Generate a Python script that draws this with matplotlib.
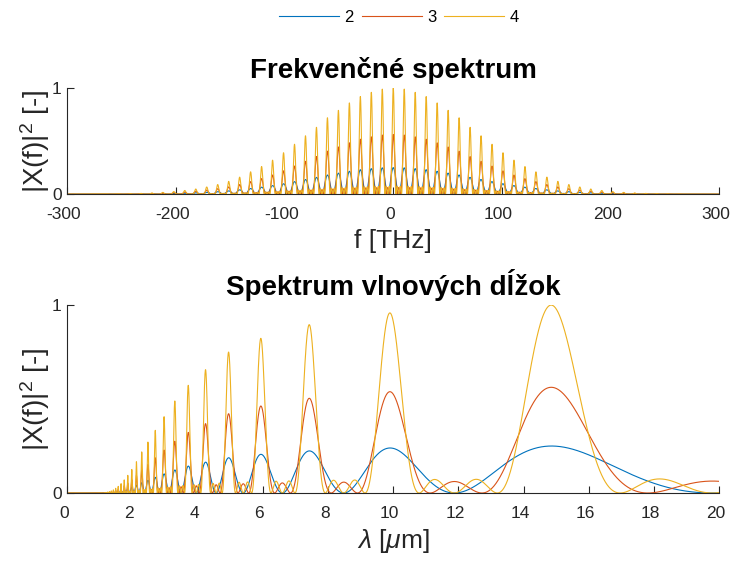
import numpy as np
import matplotlib
matplotlib.use("Agg")
import matplotlib.pyplot as plt
import matplotlib.transforms as mtransforms

plt.rcParams['font.family'] = ['Liberation Sans', 'DejaVu Sans']
plt.rcParams['mathtext.fontset'] = 'custom'
plt.rcParams['mathtext.rm'] = 'Liberation Sans'
plt.rcParams['mathtext.it'] = 'Liberation Sans:italic'

# ---- data ----
pulse_counts = [2, 3, 4]                 # legend entries
series_colors = ['#0072BD', '#D95319', '#EDB120']
comb_spacing_thz = 10.1                  # spacing of the comb teeth [THz]
# peak height of the comb teeth (N=4 curve) at f = m * spacing, m = 0..30
tooth_heights = [1.0, 0.99, 0.96, 0.92, 0.86, 0.79, 0.72, 0.63, 0.55, 0.47,
                 0.39, 0.32, 0.26, 0.21, 0.16, 0.12, 0.09, 0.067, 0.048, 0.034,
                 0.024, 0.016, 0.011, 0.007, 0.005, 0.003, 0.002, 0.001, 0.0007,
                 0.0004, 0.0002]
freq_ticks = [-300, -200, -100, 0, 100, 200, 300]
wl_ticks = [0, 2, 4, 6, 8, 10, 12, 14, 16, 18, 20]
c_um_thz = 299.792458

tooth_freqs = comb_spacing_thz * np.arange(len(tooth_heights))
log_h = np.log(np.array(tooth_heights))


def spectrum(f, n):
    env = np.exp(np.interp(np.abs(f), tooth_freqs, log_h, right=log_h[-1] - 5))
    x = np.pi * f / comb_spacing_thz
    den = np.sin(x)
    num = np.sin(n * x)
    small = np.abs(den) < 1e-12
    ratio2 = np.where(small, n ** 2, (num / np.where(small, 1, den)) ** 2)
    return env * ratio2 / max(pulse_counts) ** 2


fig = plt.figure(figsize=(7.32, 5.61), dpi=100)
ax1 = fig.add_axes([0.0919, 0.654, 0.8907, 0.189])
ax2 = fig.add_axes([0.0919, 0.1212, 0.8907, 0.335])

f = np.linspace(-300, 300, 60001)
lines = []
for n, col in zip(pulse_counts, series_colors):
    l, = ax1.plot(f, spectrum(f, n), color=col, lw=0.8, label=str(n))
    lines.append(l)

lam = np.linspace(0.02, 20, 200001)
fl = c_um_thz / lam
curves = [spectrum(fl, n) for n in pulse_counts]
norm = max(c.max() for c in curves)
for cvals, col in zip(curves, series_colors):
    ax2.plot(lam, cvals / norm, color=col, lw=0.8)

for ax in (ax1, ax2):
    for s in ('top', 'right'):
        ax.spines[s].set_visible(False)
    for s in ('left', 'bottom'):
        ax.spines[s].set_color('#262626')
        ax.spines[s].set_linewidth(0.8)
    ax.tick_params(direction='in', length=5, width=0.8, colors='#262626',
                   labelsize=12.5, labelcolor='#262626')
    ax.tick_params(axis='x', pad=9)
    ax.tick_params(axis='y', pad=4)
    ax.set_ylim(0, 1)
    ax.set_yticks([0, 1])
    ax.set_ylabel(r'|X(f)|$^2$ [-]', fontsize=20, color='#262626', labelpad=0)

ax1.set_xlim(-300, 300)
ax1.set_xticks(freq_ticks)
ax1.set_xticklabels([str(t) for t in freq_ticks])
ax1.set_xlabel('f [THz]', fontsize=19, color='#262626', labelpad=5)
ax1.set_title('Frekvenčné spektrum', fontsize=20, fontweight='bold', pad=7)

ax2.set_xlim(0, 20)
ax2.set_xticks(wl_ticks)
ax2.set_xlabel(r'$\lambda$ [$\mu$m]', fontsize=19, color='#262626', labelpad=5)
ax2.set_title('Spektrum vlnových dĺžok', fontsize=20, fontweight='bold', pad=7)

# reference tick labels sit slightly left of their ticks
shift = mtransforms.ScaledTranslation(-2.5 / 72, 0, fig.dpi_scale_trans)
for ax in (ax1, ax2):
    for lab in ax.get_xticklabels():
        lab.set_transform(lab.get_transform() + shift)

fig.legend(handles=lines, labels=[str(n) for n in pulse_counts], loc='center',
           bbox_to_anchor=(0.545, 0.969), ncol=3, frameon=False, fontsize=12,
           handlelength=3.6, handletextpad=0.3, columnspacing=0.5)

fig.savefig('out.png', dpi=100)
